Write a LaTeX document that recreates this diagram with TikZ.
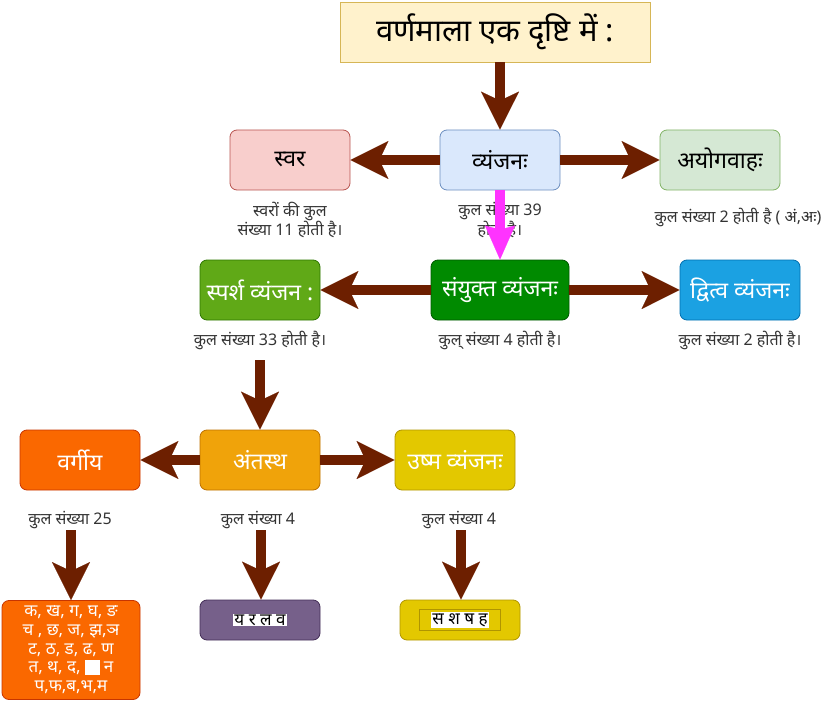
\documentclass[tikz,border=0pt]{standalone}
\usepackage{fontspec}
\newfontfamily\deva[Script=Devanagari]{Noto Sans}
\usetikzlibrary{arrows.meta}
\definecolor{arr}{HTML}{6D1F00}
\definecolor{mag}{HTML}{FF33FF}
\definecolor{ttlF}{HTML}{FFF2CC}\definecolor{ttlD}{HTML}{D6B656}
\definecolor{redF}{HTML}{F8CECC}\definecolor{redD}{HTML}{B85450}
\definecolor{bluF}{HTML}{DAE8FC}\definecolor{bluD}{HTML}{6C8EBF}
\definecolor{grnF}{HTML}{D5E8D4}\definecolor{grnD}{HTML}{82B366}
\definecolor{lgrF}{HTML}{60A917}\definecolor{lgrD}{HTML}{2D7600}
\definecolor{dgrF}{HTML}{008A00}\definecolor{dgrD}{HTML}{005700}
\definecolor{cyaF}{HTML}{1BA1E2}\definecolor{cyaD}{HTML}{006EAF}
\definecolor{orgF}{HTML}{FA6800}\definecolor{orgD}{HTML}{C73500}
\definecolor{ambF}{HTML}{F0A30A}\definecolor{ambD}{HTML}{BD7000}
\definecolor{yelF}{HTML}{E3C800}\definecolor{yelD}{HTML}{B09500}
\definecolor{vioF}{HTML}{76608A}\definecolor{vioD}{HTML}{432D57}
\definecolor{lbl}{HTML}{333333}
\begin{document}
\begin{tikzpicture}[x=1pt,y=-1pt,
  box/.style={draw, rounded corners=7pt, minimum width=120pt, minimum height=60pt,
    inner sep=0pt, line width=0.8pt, font=\deva\fontsize{23}{25}\selectfont},
  lab/.style={text=lbl, align=center, inner sep=0pt, font=\deva\fontsize{16}{18}\selectfont},
  bigarrow/.style={draw=arr, line width=10pt,
    -{Stealth[length=38pt,width=38pt,inset=9pt,line width=0.1pt]}},
  magarrow/.style={draw=mag, line width=10pt,
    -{Stealth[length=34pt,width=30pt,inset=4pt,line width=0.1pt]}}]
\useasboundingbox (0,0) rectangle (831,701);

% boxes
\node[box, fill=ttlF, draw=ttlD, rounded corners=0pt, minimum width=310pt,
  font=\deva\fontsize{31}{33}\selectfont] (title) at (495,32) {वर्णमाला एक दृष्टि में :};
\node[box, fill=redF, draw=redD] (svar) at (290,160) {स्वर};
\node[box, fill=bluF, draw=bluD] (vyan) at (500,160) {व्यंजनः};
\node[box, fill=grnF, draw=grnD] (ayog) at (720,160) {अयोगवाहः};

\node[box, fill=lgrF, draw=lgrD, text=white] (sparsh) at (260,290) {स्पर्श व्यंजन :};
\node[box, fill=dgrF, draw=dgrD, text=white, minimum width=138pt] (sanyukt) at (500,290) {संयुक्त व्यंजनः};
\node[box, fill=cyaF, draw=cyaD, text=white] (dvitva) at (740,290) {द्वित्व व्यंजनः};

\node[box, fill=orgF, draw=orgD, text=white] (vargiya) at (80,460) {वर्गीय};
\node[box, fill=ambF, draw=ambD, text=white] (antastha) at (260,460) {अंतस्थ};
\node[box, fill=yelF, draw=yelD, text=white] (ushma) at (455,460) {उष्म व्यंजनः};

\node[box, fill=orgF, draw=orgD, text=white, minimum width=138pt, minimum height=99pt,
  align=center, font=\deva\fontsize{17}{18.8}\selectfont] (vlist) at (71,650)
  {क, ख, ग, घ, ङ\\च , छ, ज, झ,ञ\\ट, ठ, ड, ढ, ण\\त, थ, द, {\setlength\fboxsep{2pt}\colorbox{white}{ध}} न\\प,फ,ब,भ,म};
\node[box, fill=vioF, draw=vioD, minimum height=40pt] (ylist) at (260,620) {};
\node[fill=white, inner sep=1pt, font=\deva\fontsize{17}{18}\selectfont] (ytext) at (ylist) {य र ल व};
\node[box, fill=yelF, draw=yelD, minimum height=40pt] (slist) at (460,620) {};
\node[draw=yelD, line width=0.8pt, minimum width=81pt, minimum height=21pt, inner sep=0pt] (sframe) at (slist) {};
\node[fill=white, inner sep=1pt, font=\deva\fontsize{17}{18}\selectfont] (stext) at (sframe) {स श ष ह};

% labels
\node[lab] (l1) at (290,220) {स्वरों की कुल\\संख्या 11 होती है।};
\node[lab] (l2) at (500,220) {कुल संख्या 39\\होती है।};
\node[lab] (l3) at (738,217) {कुल संख्या 2 होती है ( अं,अः)};
\node[lab] (l4) at (260,340) {कुल संख्या 33 होती है।};
\node[lab] (l5) at (500,340) {कुल् संख्या 4 होती है।};
\node[lab] (l6) at (740,340) {कुल संख्या 2 होती है।};
\node[lab] (l7) at (70,520) {कुल संख्या 25};
\node[lab] (l8) at (258,520) {कुल संख्या 4};
\node[lab] (l9) at (459,520) {कुल संख्या 4};

% connectors
\draw[bigarrow] (vyan |- title.south) -- (vyan);
\draw[bigarrow] (vyan) -- (svar);
\draw[bigarrow] (vyan) -- (ayog);
\draw[magarrow] (vyan) -- (sanyukt);
\draw[bigarrow] (sanyukt) -- (sparsh);
\draw[bigarrow] (sanyukt) -- (dvitva);
\coordinate (c1) at (260,360);
\draw[bigarrow] (c1) -- (antastha);
\draw[bigarrow] (antastha) -- (vargiya);
\draw[bigarrow] (antastha) -- (ushma);
\coordinate (c2) at (71,530);
\coordinate (c3) at (261,530);
\coordinate (c4) at (461,530);
\draw[bigarrow] (c2) -- (c2 |- vlist.north);
\draw[bigarrow] (c3) -- (c3 |- ylist.north);
\draw[bigarrow] (c4) -- (c4 |- slist.north);
\end{tikzpicture}
\end{document}
